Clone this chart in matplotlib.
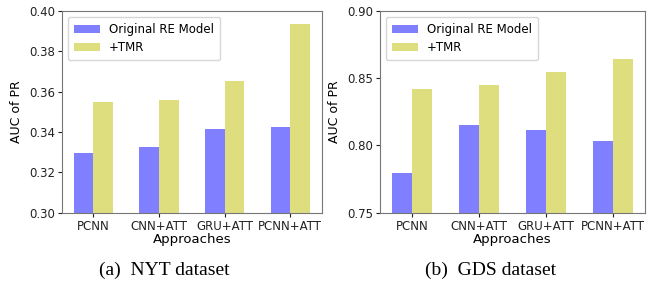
import numpy as np
import matplotlib
matplotlib.use('Agg')
import matplotlib.pyplot as plt

# datos
approaches = ['PCNN', 'CNN+ATT', 'GRU+ATT', 'PCNN+ATT']
nyt_original = [0.3297, 0.3325, 0.3415, 0.3423]
nyt_tmr = [0.3547, 0.3557, 0.3652, 0.3937]
gds_original = [0.7797, 0.8153, 0.8118, 0.8031]
gds_tmr = [0.8420, 0.8450, 0.8547, 0.8641]

plt.rcParams['font.family'] = 'DejaVu Sans'

fig = plt.figure(figsize=(6.56, 2.81), dpi=100)
ax1 = fig.add_axes([0.0945, 0.243, 0.396, 0.718])
ax2 = fig.add_axes([0.579, 0.243, 0.404, 0.718])

x = np.arange(len(approaches))
w = 0.3


def dibujar(ax, orig, tmr, ylim, yticks):
    ax.bar(x - w / 2, orig, w, color='b', alpha=0.5, label='Original RE Model')
    ax.bar(x + w / 2, tmr, w, color='y', alpha=0.5, label='+TMR')
    ax.set_xticks(x)
    ax.set_xticklabels(approaches, fontsize=8.5)
    ax.set_ylim(*ylim)
    ax.set_yticks(yticks)
    ax.set_yticklabels(['%.2f' % v for v in yticks], fontsize=8.5)
    ax.set_xlabel('Approaches', fontsize=9.5, labelpad=0)
    ax.set_ylabel('AUC of PR', fontsize=9)
    for s in ax.spines.values():
        s.set_color('#777777')
    ax.tick_params(length=3, pad=2, colors='#222222')
    ax.legend(loc='upper left', fontsize=8.5, handlelength=2.2, borderpad=0.5,
              labelspacing=0.45, handletextpad=0.8)


dibujar(ax1, nyt_original, nyt_tmr, (0.30, 0.40), np.arange(0.30, 0.401, 0.02))
dibujar(ax2, gds_original, gds_tmr, (0.75, 0.90), np.arange(0.75, 0.901, 0.05))

fig.text(0.251, 0.021, '(a)  NYT dataset', family='Liberation Serif', fontsize=14,
         ha='center', va='baseline')
fig.text(0.748, 0.021, '(b)  GDS dataset', family='Liberation Serif', fontsize=14,
         ha='center', va='baseline')

fig.savefig('out.png', dpi=100)
